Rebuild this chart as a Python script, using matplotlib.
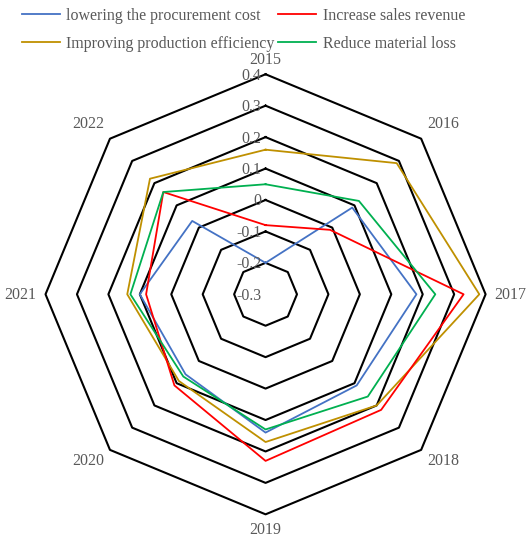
import matplotlib.pyplot as plt
import matplotlib.transforms as mtransforms
import numpy as np

plt.rcParams['font.family'] = ['Liberation Serif', 'DejaVu Serif']

years = ['2015', '2016', '2017', '2018', '2019', '2020', '2021', '2022']
procurement = [-0.20, 0.09, 0.18, 0.11, 0.14, 0.06, 0.10, 0.03]
sales = [-0.08, -0.01, 0.33, 0.22, 0.23, 0.11, 0.08, 0.16]
efficiency = [0.16, 0.29, 0.38, 0.20, 0.17, 0.09, 0.14, 0.22]
material = [0.05, 0.12, 0.24, 0.16, 0.13, 0.07, 0.13, 0.16]
ring_levels = [-0.2, -0.1, 0.0, 0.1, 0.2, 0.3, 0.4]
tick_levels = [-0.3, -0.2, -0.1, 0.0, 0.1, 0.2, 0.3, 0.4]
tick_labels = ['-0.3', '-0.2', '-0.1', '0', '0.1', '0.2', '0.3', '0.4']

txt_color = '#595959'
fs = 11.5

fig = plt.figure(figsize=(5.29, 5.38), dpi=100)
ax = fig.add_axes([0.086, 0.044, 0.832, 0.818], projection='polar')
ax.set_theta_zero_location('N')
ax.set_theta_direction(-1)
ax.set_rlim(-0.3, 0.4)
ax.grid(False)
ax.spines['polar'].set_visible(False)
ax.set_xticks([])
ax.set_yticks([])

angles = np.linspace(0, 2 * np.pi, len(years), endpoint=False)
closed = np.append(angles, angles[0])

# octagon grid
for v in ring_levels:
    ax.plot(closed, [v] * len(closed), color='black', lw=1.5, clip_on=False, zorder=1)

series = [
    ('lowering the procurement cost', procurement, '#4472C4'),
    ('Improving production efficiency', efficiency, '#BF9000'),
    ('Increase sales revenue', sales, '#FF0000'),
    ('Reduce material loss', material, '#00B050'),
]
handles = []
for name, vals, col in series:
    l, = ax.plot(closed, vals + vals[:1], color=col, lw=1.3, label=name, clip_on=False, zorder=3)
    handles.append(l)

# radial tick labels
off = mtransforms.offset_copy(ax.transData, fig=fig, x=-4, y=-1.5, units='dots')
for v, s in zip(tick_levels, tick_labels):
    ax.text(0, v, s, transform=off, ha='right', va='center', fontsize=fs, color=txt_color, zorder=4)

# category labels
for i, (a, y) in enumerate(zip(angles, years)):
    if i == 0:
        r, dx, dy = 0.452, 0, -2
    elif i == 4:
        r, dx, dy = 0.452, 0, 0.5
    elif i % 2 == 0:
        r, dx, dy = 0.48, 0, -1
    else:
        r, dx, dy = 0.459, 9 * np.sign(np.sin(a)), 1.5
    tr = mtransforms.offset_copy(ax.transData, fig=fig, x=dx, y=dy, units='dots')
    ax.text(a, r, y, transform=tr, ha='center', va='center', fontsize=fs, color=txt_color)

leg = fig.legend(handles=handles, ncol=2, loc='upper left', bbox_to_anchor=(0.026, 1.0),
                 frameon=False, fontsize=fs, handlelength=2.4, handletextpad=0.4,
                 columnspacing=0.2, labelspacing=0.75, borderaxespad=0.1)
for t in leg.get_texts():
    t.set_color(txt_color)

fig.savefig('out.png', dpi=100)
